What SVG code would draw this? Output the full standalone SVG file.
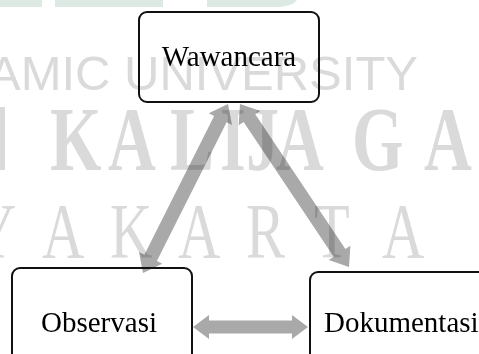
<svg xmlns="http://www.w3.org/2000/svg" width="479" height="354" viewBox="0 0 479 354">
  <style>
    .wm { fill: #dadada; }
    .wms { font-family: "Liberation Sans", Arial, sans-serif; }
    .wmr { font-family: "Liberation Serif", "Times New Roman", serif; }
    .box { fill: none; stroke: #111; stroke-width: 2; }
    .lbl { font-family: "Liberation Serif", "Times New Roman", serif; font-size: 29px; fill: #000; }
    .arr { fill: #a9a9a9; mix-blend-mode: multiply; }
  </style>
  <rect width="479" height="354" fill="#fff"/>
  <g id="watermark">
    <rect x="0" y="0" width="42" height="7" fill="#dde9e3"/>
    <rect x="55" y="0" width="108" height="7" fill="#dde9e3"/>
    <path d="M207 0 H297 Q292 7 276 7 H207 Z" fill="#dde9e3"/>
    <text class="wm wms" x="-12" y="90" font-size="49" textLength="430" lengthAdjust="spacingAndGlyphs">AMIC UNIVERSITY</text>
    <rect class="wm" x="0" y="107" width="5" height="63"/>
    <text class="wm wmr" transform="scale(0.72,1)" y="170" font-size="92" font-weight="bold" x="69.4 150 236.1 305.6 341.7 383.3 488.9 588.9">KALIJAGA</text>
    <text class="wm wmr" transform="scale(0.75,1)" y="257" font-size="78" x="-34.7 56 146.7 237.3 328 418.7 509.3">YAKARTA</text>
  </g>
  <g id="connectors">
    <polygon class="arr" points="228,104 231.97,125.03 226.61,122.34 156.89,260.96 162.25,263.65 143,273 139.03,251.97 144.39,254.66 214.11,116.04 208.75,113.35"/>
    <polygon class="arr" points="240,104 260.26,110.9 255.27,114.24 345.37,248.98 350.36,245.64 349,267 328.74,260.1 333.73,256.76 243.63,122.02 238.64,125.36"/>
    <polygon class="arr" points="193,327 209,315 209,320.5 292,320.5 292,315 308,327 292,339 292,333.5 209,333.5 209,339"/>
  </g>
  <g id="wawancara">
    <rect class="box" x="139" y="12" width="180" height="90" rx="8"/>
    <text class="lbl" x="229" y="66" text-anchor="middle">Wawancara</text>
  </g>
  <g id="observasi">
    <rect class="box" x="12" y="268" width="180" height="100" rx="8"/>
    <text class="lbl" x="99" y="332" text-anchor="middle">Observasi</text>
  </g>
  <g id="dokumentasi">
    <rect class="box" x="310" y="272" width="180" height="100" rx="8"/>
    <text class="lbl" x="324" y="332">Dokumentasi</text>
  </g>
</svg>
